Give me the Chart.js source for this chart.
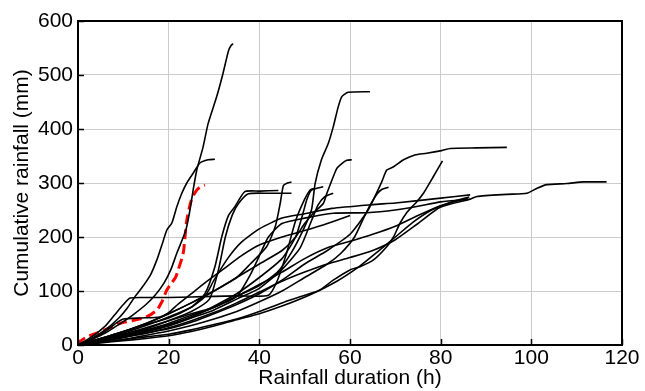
<!DOCTYPE html>
<html>
<head>
<meta charset="utf-8">
<script src="https://cdn.jsdelivr.net/npm/chart.js@4.4.1/dist/chart.umd.min.js"></script>
<style>
  html, body { margin: 0; padding: 0; background: #fff; }
  #wrap { width: 645px; height: 391px; position: relative; }
</style>
</head>
<body>
<div id="wrap"><canvas id="c"></canvas></div>
<script>
// axis ticks
const xTicks = [0, 20, 40, 60, 80, 100, 120];
const yTicks = [0, 100, 200, 300, 400, 500, 600];

// design storm (red dashed), [duration h, cumulative mm]
const designStorm = [[0,0],[0.4,6],[2,15],[4.1,22],[6.5,30],[9.3,40],[12,45],[15.1,52],[17.4,65],[18.5,80],[19.6,102],[20.3,111],[21.5,125],[22.1,139],[23.2,170],[23.6,200],[24,231],[25,268],[26.2,287],[27.3,294],[28,296]];

// observed events (black), [duration h, cumulative mm]
const ev01 = [[0,0],[3,10],[6,22],[9,38],[12,55],[15,75],[17,92],[19,115],[20.5,140],[21.8,170],[23,195],[23.8,213],[24.7,250],[25.4,287],[26.2,324],[27.6,367],[28.7,410],[30.6,460],[31.9,500],[33.2,545],[33.8,555],[34.2,558]];
const ev02 = [[0,0],[3,12],[6,28],[9,50],[11,70],[12.6,90],[14,105],[16,130],[17.5,160],[18.5,185],[19.6,213],[20.7,226],[21.8,256],[22.9,281],[24,300],[25.4,318],[26.9,337],[28.7,343],[30.2,344]];
const ev03 = [[0,0],[5,8],[10,18],[15,28],[20,40],[25,55],[30,70],[35,90],[40,110],[44,135],[47,170],[49.5,210],[51.5,250],[52.3,299],[53.7,343],[55.2,373],[56.3,404],[57.4,441],[58.2,460],[59.6,468],[64.4,469]];
const ev04 = [[0,0],[5,12],[10,25],[15,40],[20,58],[25,78],[30,100],[35,125],[40,150],[45,175],[48,200],[50,225],[52,245],[54.1,262],[54.9,281],[56,305],[57.1,327],[58.2,336],[59.3,342],[60.4,343]];
const ev05 = [[0,0],[5,8],[10,15],[15,22],[20,30],[25,42],[30,58],[35,75],[40,95],[45,120],[50,150],[55,175],[60,205],[64,250],[67,302],[68.1,324],[69.6,330],[71.8,343],[74.3,352],[76.9,355],[80.2,360],[82.1,364],[88,365],[94.6,366]];
const ev06 = [[0,0],[5,5],[10,10],[15,15],[20,20],[25,28],[30,38],[35,48],[40,62],[45,78],[50,92],[53.4,102],[56.3,120],[60,139],[62.2,145],[65.1,157],[68.1,182],[69.6,200],[71,225],[72.5,245],[74.7,265],[76.2,281],[78.4,312],[80.4,341]];
const ev07 = [[0,0],[5,6],[10,14],[15,22],[20,32],[25,45],[30,60],[35,78],[40,98],[45,118],[50,135],[55,150],[60,162],[65,175],[70,195],[75,225],[79.9,255],[86.5,270],[88,275],[94.6,279],[99,281],[101.2,290],[103.4,297],[107.8,299],[111.5,302],[116.6,302]];
const ev08 = [[0,0],[5,4],[10,8],[15,12],[20,17],[25,25],[30,35],[35,47],[40,58],[45,72],[51.2,93],[57.1,118],[62,145],[66,172],[70,200],[74,228],[78,250],[82,264],[86.3,274]];
const ev09 = [[0,0],[5,8],[10,16],[15,26],[20,38],[25,52],[30,70],[35,90],[40,112],[45,135],[50,160],[55,180],[60,192],[65,205],[70,220],[75,240],[80,258],[86,272]];
const ev10 = [[0,0],[5,12],[10,25],[15,38],[20,50],[25,70],[28,90],[30,120],[33,160],[36,190],[40,215],[45,235],[50,243],[56,253],[65,260],[70,263],[80,272],[86.5,278]];
const ev11 = [[0,0],[5,10],[10,20],[15,32],[20,45],[25,58],[30,70],[35,90],[38,130],[40,165],[42,200],[45,225],[50,235],[56.3,244],[63.7,245],[70,250],[75,257],[80,265],[86.5,270]];
const ev12 = [[0,0],[5,10],[10,22],[15,36],[20,52],[25,70],[28,95],[30.2,145],[31.7,200],[33.2,240],[34.6,256],[36.8,284],[40,285],[44.2,286]];
const ev13 = [[0,0],[5,8],[10,18],[15,30],[20,45],[25,62],[29,85],[31,140],[32.5,200],[34,240],[35.4,262],[37.6,280],[42,281],[47.1,281]];
const ev14 = [[0,0],[5,12],[10,25],[15,40],[20,58],[25,78],[30,100],[35,125],[38,150],[41.6,182],[43.5,219],[44.6,262],[45.3,295],[46.2,300],[47.1,302]];
const ev15 = [[0,0],[5,6],[10,14],[15,24],[20,36],[25,52],[30,72],[35,95],[40,125],[45,160],[48,200],[49.5,240],[50.5,270],[51.5,287],[54.1,293]];
const ev16 = [[0,0],[5,7],[10,15],[15,25],[20,35],[25,50],[30,65],[35,85],[40,105],[45,140],[49,180],[51.5,230],[53,260],[54.5,275],[56.3,281]];
const ev17 = [[0,0],[5,5],[10,10],[15,18],[20,26],[25,36],[30,48],[35,62],[40,80],[45,100],[50,125],[55,150],[58,170],[61,200],[63,235],[64.5,260],[66,280],[67,288],[68.5,292]];
const ev18 = [[0,0],[3,15],[6,35],[8,55],[10,75],[11.5,87],[15,88],[20,88],[25,89],[30,90],[35,91],[42,92],[44,120],[46,170],[48,230],[50,270],[51.2,287],[52,290]];
const ev19 = [[0,0],[3,10],[6,25],[8,38],[10,48],[14,50],[18,52],[20,60],[22,75],[25,95],[28,115],[32,140],[36,165],[40,185],[45,200],[50,212],[55,225],[60,240]];

const events = [ev01, ev02, ev03, ev04, ev05, ev06, ev07, ev08, ev09, ev10,
                ev11, ev12, ev13, ev14, ev15, ev16, ev17, ev18, ev19];

const toXY = arr => arr.map(p => ({ x: p[0], y: p[1] }));

const datasets = events.map(ev => ({
  data: toXY(ev),
  borderColor: '#000',
  borderWidth: 1.6,
  pointRadius: 0,
  tension: 0.2,
  fill: false
}));
datasets.push({
  data: toXY(designStorm),
  borderColor: '#ff0000',
  borderWidth: 3,
  borderDash: [10, 5],
  pointRadius: 0,
  tension: 0.3,
  fill: false
});

const FONT = 'Liberation Sans, Arial, sans-serif';

// inside ticks + frame
const frame = {
  id: 'frame',
  afterDraw(chart) {
    const { ctx, chartArea: a, scales } = chart;
    ctx.save();
    ctx.strokeStyle = '#000';
    ctx.lineWidth = 1.5;
    ctx.beginPath();
    xTicks.forEach(v => {
      const px = Math.round(scales.x.getPixelForValue(v)) + 0.5;
      ctx.moveTo(px, a.bottom); ctx.lineTo(px, a.bottom - 6);
    });
    yTicks.forEach(v => {
      const py = Math.round(scales.y.getPixelForValue(v)) + 0.5;
      ctx.moveTo(a.left, py); ctx.lineTo(a.left + 6, py);
    });
    ctx.stroke();
    ctx.lineWidth = 2;
    ctx.strokeRect(a.left, a.top, a.right - a.left, a.bottom - a.top);
    ctx.restore();
  }
};

new Chart(document.getElementById('c'), {
  type: 'line',
  data: { datasets },
  options: {
    responsive: true,
    maintainAspectRatio: false,
    animation: false,
    layout: { padding: { left: 10, top: 21, right: 23, bottom: 0 } },
    plugins: { legend: { display: false }, tooltip: { enabled: false } },
    scales: {
      x: {
        type: 'linear', min: 0, max: 120,
        afterBuildTicks: s => { s.ticks = xTicks.map(v => ({ value: v })); },
        afterFit: s => { s.height = 46; },
        grid: { color: '#cccccc', lineWidth: 1, drawTicks: false },
        border: { display: false },
        ticks: { color: '#000', font: { family: FONT, size: 21 }, padding: 1, maxRotation: 0 },
        title: { display: true, text: 'Rainfall duration (h)', color: '#000',
                 font: { family: FONT, size: 21 }, padding: { top: -4, bottom: 0 } }
      },
      y: {
        type: 'linear', min: 0, max: 600,
        afterBuildTicks: s => { s.ticks = yTicks.map(v => ({ value: v })); },
        afterFit: s => { s.width = 68; },
        grid: { color: '#cccccc', lineWidth: 1, drawTicks: false },
        border: { display: false },
        ticks: { color: '#000', font: { family: FONT, size: 21 }, padding: 5 },
        title: { display: true, text: 'Cumulative rainfall (mm)', color: '#000',
                 font: { family: FONT, size: 21 }, padding: { top: 0, bottom: 0 } }
      }
    }
  },
  plugins: [frame]
});
</script>
</body>
</html>
